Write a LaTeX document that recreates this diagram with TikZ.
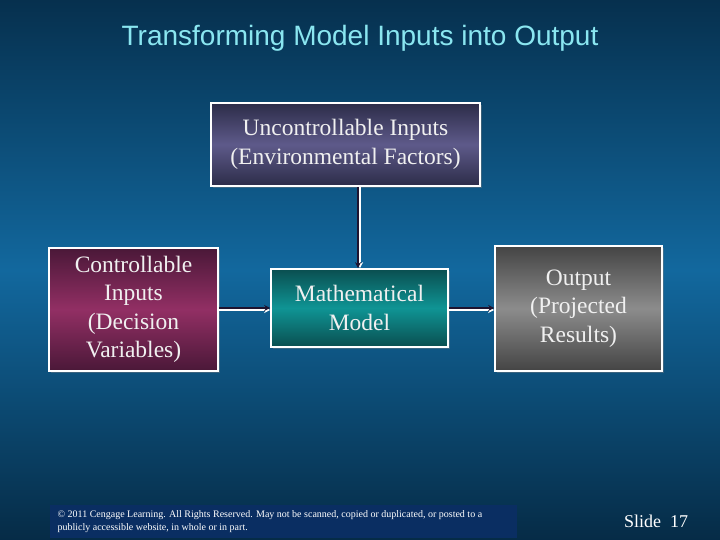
\documentclass[tikz,border=0pt]{standalone}
\usepackage{fontspec}
\setmainfont{Liberation Serif}
\newfontfamily\titlefont{Liberation Sans}
\usetikzlibrary{arrows.meta,shadows}
\definecolor{bgdark}{HTML}{06304E}
\definecolor{bgmid}{HTML}{12689E}
\definecolor{titlecyan}{HTML}{8AE6F0}
\definecolor{arrowdark}{HTML}{1E1430}
\definecolor{envedge}{HTML}{2C2C48}
\definecolor{envmid}{HTML}{5E5A8A}
\definecolor{decedge}{HTML}{4A1838}
\definecolor{decmid}{HTML}{922F64}
\definecolor{modedge}{HTML}{0A4E50}
\definecolor{modmid}{HTML}{0F9494}
\definecolor{outedge}{HTML}{444444}
\definecolor{outmid}{HTML}{8C8C8C}
\definecolor{footblue}{HTML}{0A2E62}
\tikzset{
  box/.style={rectangle, draw=white, line width=1.6pt, align=center,
    text=white!94!black, inner sep=0pt,
    drop shadow={opacity=0.4, shadow xshift=2pt, shadow yshift=-2pt}},
  envbox/.style={box, top color=envedge, bottom color=envedge, middle color=envmid},
  decbox/.style={box, top color=decedge, bottom color=decedge, middle color=decmid},
  modbox/.style={box, top color=modedge, bottom color=modedge, middle color=modmid},
  outbox/.style={box, top color=outedge, bottom color=outedge, middle color=outmid},
  link/.style={draw=arrowdark, line width=1.8pt, -{Stealth[length=6pt,width=6pt]}},
  linkglow/.style={draw=white, line width=1.4pt, -{Stealth[length=6pt,width=6pt]}}
}
\begin{document}
\begin{tikzpicture}[x=1pt,y=-1pt]
  % background
  \useasboundingbox (0,0) rectangle (720,540);
  \shade[top color=bgdark, bottom color=bgdark!90!black, middle color=bgmid] (0,0) rectangle (720,540);
  % title
  \node[font=\titlefont\fontsize{28}{32}\selectfont, text=titlecyan] (title) at (360,38) {Transforming Model Inputs into Output};
  % boxes
  \node[envbox, minimum width=269pt, minimum height=83pt, font=\fontsize{23.5}{29}\selectfont] (env) at (345.5,144.5) {Uncontrollable Inputs\\(Environmental Factors)};
  \node[decbox, minimum width=169pt, minimum height=123pt, font=\fontsize{23.5}{28.5}\selectfont] (dec) at (133.5,309.5) {Controllable\\Inputs\\(Decision\\Variables)};
  \node[modbox, minimum width=177pt, minimum height=78pt, font=\fontsize{23.5}{29}\selectfont] (model) at (359.5,308) {Mathematical\\Model};
  \node[outbox, minimum width=167pt, minimum height=125pt, font=\fontsize{23.5}{28.5}\selectfont] (out) at (578.5,308.5) {Output\\(Projected\\Results)};
  % connectors
  \coordinate (drop) at ([xshift=-1.5pt]env.south -| model.north);
  \path[linkglow] ([xshift=2pt]drop) -- ([xshift=2pt]drop |- model.north);
  \path[link] (drop) -- (drop |- model.north);
  \path[linkglow] ([yshift=-2pt]dec.east |- model.west) -- ([yshift=-2pt]model.west);
  \path[link] (dec.east |- model.west) -- (model.west);
  \path[linkglow] ([yshift=-2pt]model.east) -- ([yshift=-2pt]model.east -| out.west);
  \path[link] (model.east) -- (model.east -| out.west);
  % footer
  \node[fill=footblue, minimum width=467pt, minimum height=33pt, inner sep=0pt] (foot) at (283.5,521.5) {};
  \node[anchor=west, align=left, text=white, font=\fontsize{10}{13}\selectfont] (copy) at (54,521.5) {\textcopyright{} 2011 Cengage Learning. All Rights Reserved. May not be scanned, copied or duplicated, or posted to a\\publicly accessible website, in whole or in part.};
  \node[text=white, font=\fontsize{18}{20}\selectfont] (slide) at (656,521) {Slide\ \ 17};
\end{tikzpicture}
\end{document}
